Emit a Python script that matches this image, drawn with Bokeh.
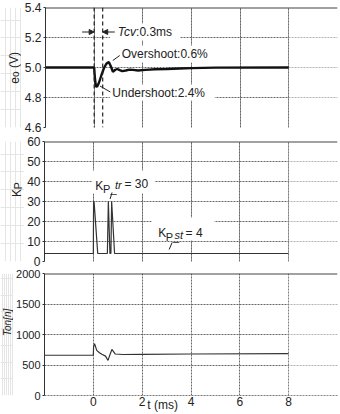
from bokeh.plotting import figure
from bokeh.layouts import column, row
from bokeh.models import (FixedTicker, Grid, Label, Span, Arrow, NormalHead,
                          BoxAnnotation, Range1d)
from bokeh.embed import file_html
from bokeh.resources import INLINE

# ---------------- data ----------------
t_eo = [-2.0, 0.0, 0.03, 0.07, 0.12, 0.2, 0.3, 0.4, 0.5, 0.6, 0.68, 0.77, 0.87,
        0.95, 1.05, 1.15, 1.3, 1.45, 1.6, 1.8, 2.1, 2.5, 3.0, 3.5, 4.0, 5.0, 8.0]
eo_v = [5.0, 5.0, 4.93, 4.875, 4.872, 4.9, 4.95, 4.995, 5.025, 5.037, 5.01, 4.972,
        4.985, 4.99, 4.982, 4.976, 4.98, 4.986, 4.984, 4.98, 4.984, 4.988, 4.99,
        4.993, 4.996, 4.999, 5.0]

t_kp = [-2.0, 0.0, 0.01, 0.03, 0.18, 0.575, 0.615, 0.68, 0.72, 0.75, 0.87, 8.0]
kp_v = [4, 4, 30, 30, 4, 4, 30, 4, 4, 30, 4, 4]

t_ton = [-2.0, 0.0, 0.01, 0.05, 0.14, 0.25, 0.35, 0.5, 0.6, 0.66, 0.76, 0.9,
         1.2, 2.0, 4.0, 8.0]
ton_v = [660, 660, 800, 850, 740, 700, 675, 645, 575, 645, 755, 680, 672, 675,
         680, 685]

tcv_t = [0.0, 0.35]
x_ticks = [0, 2, 4, 6, 8]
eo_ticks = [4.6, 4.8, 5.0, 5.2, 5.4]
kp_ticks = [0, 10, 20, 30, 40, 50, 60]
ton_ticks = [0, 500, 1000, 1500, 2000]

# ---------------- layout helpers ----------------
FONT = "Liberation Sans"
W = 340
FL, FR = 42, 337
GRID_C = "#666666"
TXT_C = "#222222"


def X(px):
    return (px - FL) / ((FR - FL) / 12.0) - 2.0


def Y1(py):
    return 5.4 - (py - 7.0) * 0.8 / 120.0


def Y2(py):
    return (261.0 - py) * 60.0 / 120.0


def Y3(py):
    return (396.0 - py) * 2000.0 / 123.0


def lab_fig(w, h):
    f = figure(width=w, height=h, x_range=Range1d(0, w), y_range=Range1d(0, h),
               output_backend="svg", toolbar_location=None, title=None,
               x_axis_location=None, y_axis_location=None, min_border=0)
    f.outline_line_color = None
    f.background_fill_color = "white"
    f.border_fill_color = "white"
    return f


def make_fig(width, height, top, bottom, y0, y1, yticks, with_xaxis,
             overrides=None, tick_out=2, standoff=2, label_size="12px"):
    p = figure(width=width, height=height, x_range=Range1d(-2, 10),
               y_range=Range1d(y0, y1), output_backend="svg",
               toolbar_location=None, title=None,
               x_axis_location="below" if with_xaxis else None,
               min_border_left=FL - (W - width), min_border_right=W - FR,
               min_border_top=top, min_border_bottom=bottom)
    p.outline_line_color = None
    p.background_fill_color = "white"
    p.border_fill_color = "white"
    ya = p.yaxis[0]
    ya.ticker = FixedTicker(ticks=yticks)
    ya.axis_line_color = "#333333"
    ya.major_tick_line_color = "#333333"
    ya.major_tick_out = tick_out
    ya.major_tick_in = 0
    ya.minor_tick_line_color = None
    ya.minor_tick_out = 0
    ya.major_label_standoff = standoff
    ya.major_label_text_font = FONT
    ya.major_label_text_font_size = label_size
    ya.major_label_text_color = TXT_C
    if overrides:
        ya.major_label_overrides = overrides
    if with_xaxis:
        xa = p.xaxis[0]
        xa.ticker = FixedTicker(ticks=x_ticks)
        xa.axis_line_color = "#777777"
        xa.axis_line_dash = "2 1"
        xa.major_tick_line_color = None
        xa.major_tick_out = 0
        xa.major_tick_in = 0
        xa.minor_tick_line_color = None
        xa.minor_tick_out = 0
        xa.major_label_standoff = 1
        xa.major_label_text_font = FONT
        xa.major_label_text_font_size = "12px"
        xa.major_label_text_color = TXT_C
    else:
        p.add_layout(Grid(dimension=0, ticker=FixedTicker(ticks=x_ticks)))
    for g in p.select(type=Grid):
        g.grid_line_color = GRID_C
        g.grid_line_dash = "2 1"
        g.grid_line_width = 1
        g.grid_line_alpha = 1.0
    return p


def finish(p, ytop):
    p.add_layout(BoxAnnotation(left=8, fill_color="white", fill_alpha=0.5,
                               line_color=None))
    p.add_layout(Span(location=ytop, dimension="width", line_color="#444444",
                      line_width=2))


def white_box(p, l, r, b, t):
    p.add_layout(BoxAnnotation(left=l, right=r, bottom=b, top=t,
                               fill_color="white", fill_alpha=1.0,
                               line_color=None))


def txt(p, x, y, s, size="12px", style="normal", baseline="alphabetic",
        align="left", angle=0):
    p.add_layout(Label(x=x, y=y, text=s, text_font=FONT, text_font_size=size,
                       text_font_style=style, text_color=TXT_C,
                       text_align=align, text_baseline=baseline,
                       angle=angle, angle_units="deg"))


def vtxt(p, x, y, s, size="12px", style="normal"):
    txt(p, x, y, s, size=size, style=style, baseline="middle", align="center",
        angle=90)


def leader(p, x0, y0, x1, y1, head=False):
    end = NormalHead(size=5, fill_color=TXT_C, line_color=TXT_C) if head else None
    p.add_layout(Arrow(end=end, x_start=x0, y_start=y0, x_end=x1, y_end=y1,
                       line_color=TXT_C, line_width=1))


# ---------------- panel 1 : e_o ----------------
H1, W1 = 134, 21
l1 = lab_fig(W1, H1)
vtxt(l1, 13.5, H1 - 81.5, "e")
vtxt(l1, 15, H1 - 74.5, "o", size="10px")
vtxt(l1, 13.5, H1 - 58.5, "(V)")

p1 = make_fig(W - W1, H1, 7, 7, 4.6, 5.4, eo_ticks, False, {5.0: "5.0"})
p1.line(t_eo, eo_v, line_width=2.4, line_color="#111111")
finish(p1, 5.4)
for tv in tcv_t:
    p1.add_layout(Span(location=tv, dimension="height", line_color="#222222",
                       line_width=1.2, line_dash="4 3"))
white_box(p1, X(107), X(178), Y1(40), Y1(23))
white_box(p1, X(116), X(208), Y1(62), Y1(45))
white_box(p1, X(107), X(213), Y1(100), Y1(84))
leader(p1, X(79), Y1(31.5), tcv_t[0], Y1(31.5), head=True)
leader(p1, X(112), Y1(31.5), tcv_t[1], Y1(31.5), head=True)
txt(p1, X(115), Y1(31.5), "Tcv", style="italic", baseline="middle")
txt(p1, X(133.5), Y1(31.5), ":0.3ms", baseline="middle")
leader(p1, X(110), Y1(60), X(117), Y1(55))
txt(p1, X(119), Y1(53.5), "Overshoot:0.6%", baseline="middle")
leader(p1, X(97), Y1(85.5), X(107.5), Y1(91.5))
txt(p1, X(109.5), Y1(92), "Undershoot:2.4%", baseline="middle")

# ---------------- panel 2 : K_P ----------------
H2, W2, T2 = 134, 24, 134
l2 = lab_fig(W2, H2)
vtxt(l2, 16, H2 - (191.5 - T2), "K")
vtxt(l2, 17.5, H2 - (183.5 - T2), "P", size="11px")

p2 = make_fig(W - W2, H2, 7, 7, 0, 60, kp_ticks, False)
p2.line(t_kp, kp_v, line_width=1.2, line_color="#333333")
finish(p2, 60)
white_box(p2, X(90), X(153), Y2(193), Y2(170))
txt(p2, X(93), Y2(185.5), "K")
txt(p2, X(101), Y2(188), "P_", size="11px")
txt(p2, X(113), Y2(184.5), "tr", size="11px", style="italic")
txt(p2, X(122.5), Y2(183.5), "= 30")
leader(p2, X(110), Y2(192), X(108), Y2(198.5))
white_box(p2, X(150), X(213), Y2(240), Y2(217))
txt(p2, X(156.5), Y2(232.5), "K")
txt(p2, X(164), Y2(236), "P_", size="11px")
txt(p2, X(173), Y2(234), "st", size="11px", style="italic")
txt(p2, X(184), Y2(232.5), "= 4")
leader(p2, X(170.5), Y2(242), X(167.5), Y2(249))

# ---------------- panel 3 : T_on[n] ----------------
H3, W3, T3 = 146, 13, 268
l3 = lab_fig(W3, H3)
vtxt(l3, 6.4, H3 - (339 - T3), "T", size="11px", style="italic")
vtxt(l3, 7.2, H3 - (323.5 - T3), "on[n]", size="10px", style="italic")

p3 = make_fig(W - W3, H3, 5, 18, 0, 2000, ton_ticks, True, tick_out=2,
              standoff=2, label_size="11px")
p3.line(t_ton, ton_v, line_width=1.2, line_color="#333333")
finish(p3, 2000)
xa3 = p3.xaxis[0]
xa3.axis_label = "t (ms)" + "\u00a0" * 17
xa3.axis_label_standoff = -11
xa3.axis_label_text_font = FONT
xa3.axis_label_text_font_size = "12px"
xa3.axis_label_text_font_style = "normal"
xa3.axis_label_text_color = TXT_C

layout = column(row(l1, p1), row(l2, p2), row(l3, p3))
open("out.html", "w").write(file_html(layout, INLINE))
